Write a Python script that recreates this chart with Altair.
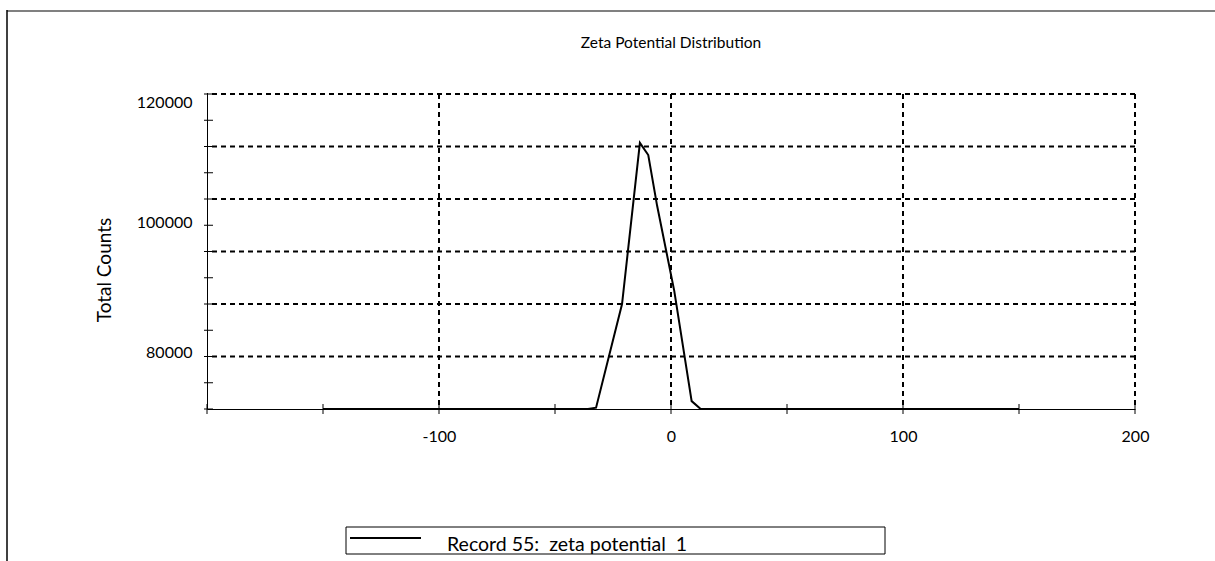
import altair as alt
import pandas as pd

# ---- data ----
zeta_mv = [-150, -35.8, -32.3, -21.1, -13.4, -9.8, -6.0, 1.4, 8.9, 12.8, 150]
total_counts = [72000, 72000, 72200, 88000, 112550, 110700, 103000, 90000, 73200, 72000, 72000]
series_name = "Record 55:\u00a0 zeta potential\u00a0 1"
chart_title = "Zeta Potential Distribution"
y_title = "Total Counts"
x_tick_values = [-200, -150, -100, -50, 0, 50, 100, 150, 200]
x_grid_values = [-100, 0, 100, 200]
y_tick_values = [72000, 76000, 80000, 84000, 88000, 92000, 96000, 100000,
                 104000, 108000, 112000, 116000, 120000]
y_grid_values = [80000, 88000, 96000, 104000, 112000, 120000]

FONT = "Lato"
W, H = 928, 315
PAD_L, PAD_T = 207, 94

df = pd.DataFrame({"zeta": zeta_mv, "counts": total_counts})

xscale = alt.Scale(domain=[-200, 200], nice=False, zero=False)
yscale = alt.Scale(domain=[72000, 120000], nice=False, zero=False)

x_axis = alt.Axis(
    values=x_tick_values, title=None, grid=False, ticks=False, tickSize=0,
    labelExpr="(datum.value % 100 == 0 && datum.value != -200) ? ('' + datum.value) : ''",
    labelFont=FONT, labelFontSize=16, labelColor="black", labelPadding=19,
    domainColor="black", domainWidth=1, labelFlush=False, labelOverlap=False,
)
y_axis = alt.Axis(
    values=y_tick_values, title=None, grid=False, ticks=False, tickSize=0,
    labelExpr="(datum.value % 20000 == 0) ? ('' + datum.value) : ''",
    labelFont=FONT, labelFontSize=16, labelColor="black", labelPadding=15,
    labelOffset={"condition": [{"test": "datum.value == 120000", "value": 8},
                               {"test": "datum.value == 100000", "value": -3}],
                 "value": -4},
    domainColor="black", domainWidth=1, labelFlush=False, labelOverlap=False,
)

dash = dict(strokeDash=[5, 4], color="black", strokeWidth=2)

xgrid = alt.Chart(pd.DataFrame({"zeta": x_grid_values})).mark_rule(**dash).encode(
    x=alt.X("zeta:Q", scale=xscale, axis=x_axis)
)
ygrid = alt.Chart(pd.DataFrame({"counts": y_grid_values})).mark_rule(**dash).encode(
    y=alt.Y("counts:Q", scale=yscale, axis=y_axis)
)

line = alt.Chart(df).mark_line(color="black", strokeWidth=2).encode(
    x=alt.X("zeta:Q", scale=xscale, axis=x_axis),
    y=alt.Y("counts:Q", scale=yscale, axis=y_axis),
)

xticks = alt.Chart(pd.DataFrame({"zeta": x_tick_values})).mark_rule(color="black", strokeWidth=1).encode(
    x=alt.X("zeta:Q", scale=xscale, axis=x_axis),
    y=alt.value(H - 5), y2=alt.value(H + 5),
)
yticks = alt.Chart(pd.DataFrame({"counts": y_tick_values})).mark_rule(color="black", strokeWidth=1).encode(
    y=alt.Y("counts:Q", scale=yscale, axis=y_axis),
    x=alt.value(-3), x2=alt.value(6),
)

title_txt = alt.Chart(pd.DataFrame({"s": [chart_title]})).mark_text(
    font=FONT, fontSize=15.5, color="black", align="center", baseline="middle"
).encode(x=alt.value(W / 2), y=alt.value(43 - PAD_T), text="s:N")

ytitle_txt = alt.Chart(pd.DataFrame({"s": [y_title]})).mark_text(
    font=FONT, fontSize=19, color="black", align="center", baseline="middle", angle=270
).encode(x=alt.value(105 - PAD_L), y=alt.value(270 - PAD_T), text="s:N")

# legend box
leg_box = alt.Chart(pd.DataFrame({"s": [series_name]})).mark_rect(
    fill="white", fillOpacity=0, stroke="black", strokeWidth=1
).encode(
    x=alt.value(346 - PAD_L), x2=alt.value(885 - PAD_L),
    y=alt.value(527 - PAD_T), y2=alt.value(554 - PAD_T),
)
leg_line = alt.Chart(pd.DataFrame({"s": [series_name]})).mark_rule(color="black", strokeWidth=2).encode(
    x=alt.value(350 - PAD_L), x2=alt.value(421 - PAD_L), y=alt.value(538 - PAD_T)
)
leg_text = alt.Chart(pd.DataFrame({"s": [series_name]})).mark_text(
    font=FONT, fontSize=19.5, color="black", align="left", baseline="middle"
).encode(x=alt.value(447 - PAD_L), y=alt.value(545 - PAD_T), text="s:N")

# outer frame lines
frame_top = alt.Chart(pd.DataFrame({"s": [0]})).mark_rule(color="#808080", strokeWidth=2).encode(
    x=alt.value(7 - PAD_L), x2=alt.value(1215 - PAD_L), y=alt.value(11 - PAD_T)
)
frame_left = alt.Chart(pd.DataFrame({"s": [0]})).mark_rule(color="black", strokeWidth=1.5).encode(
    x=alt.value(7 - PAD_L), y=alt.value(10 - PAD_T), y2=alt.value(561 - PAD_T)
)

chart = alt.layer(
    xgrid, ygrid, line, xticks, yticks, title_txt, ytitle_txt,
    leg_box, leg_line, leg_text, frame_top, frame_left,
).properties(
    width=W, height=H,
    autosize=alt.AutoSizeParams(type="none"),
    padding={"left": PAD_L, "top": PAD_T, "right": 1215 - PAD_L - W, "bottom": 561 - PAD_T - H},
    background="white",
).configure_view(stroke=None)

chart.save("out.html", embed_options={"renderer": "svg", "actions": False})
